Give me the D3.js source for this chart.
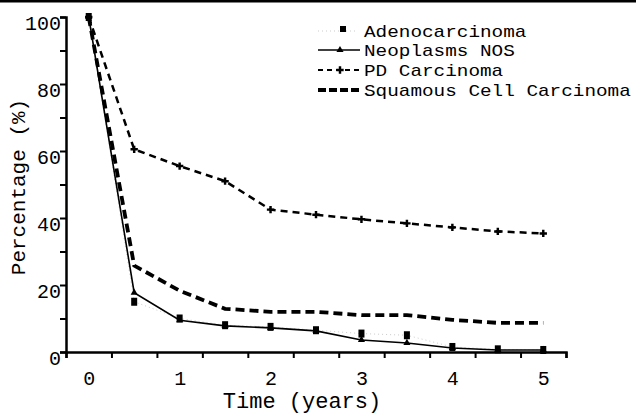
<!DOCTYPE html>
<html>
<head>
<meta charset="utf-8">
<script src="https://cdn.jsdelivr.net/npm/d3@7"></script>
<style>
  body { margin: 0; background: #fff; }
</style>
</head>
<body>
<div class="canvaChart"></div>
<script>
// survival data
const times = [0, 0.5, 1, 1.5, 2, 2.5, 3, 3.5, 4, 4.5, 5];
const adenocarcinoma = [100, 15, 10, 8, 7.5, 6.5, 5.5, 5, 1.5, 0.8, 0.6];
const neoplasmsNOS = [100, 17.7, 9.5, 7.8, 7.2, 6.3, 3.6, 2.7, 1.2, 0.6, 0.6];
const pdCarcinoma = [100, 60.5, 55.5, 51, 42.5, 41, 39.6, 38.4, 37.2, 36, 35.4];
const squamous = [100, 25.8, 18.3, 12.9, 12, 12, 11, 11, 9.6, 8.7, 8.7];
const seriesNames = ["Adenocarcinoma", "Neoplasms NOS", "PD Carcinoma", "Squamous Cell Carcinoma"];
const xTickValues = [-0.25, 0.25, 0.75, 1.25, 1.75, 2.25, 2.75, 3.25, 3.75, 4.25, 4.75, 5.25];
const xLabelValues = [0, 1, 2, 3, 4, 5];
const yTickValues = [0, 10, 20, 30, 40, 50, 60, 70, 80, 90, 100];

const FONT = "'Liberation Mono', 'DejaVu Sans Mono', monospace";
const W = 636, H = 415;
const svg = d3.select(".canvaChart").append("svg")
  .attr("width", W).attr("height", H);

// top border of the scanned figure
svg.append("line").attr("x1", 0).attr("x2", W).attr("y1", 1).attr("y2", 1)
  .attr("stroke", "#000").attr("stroke-width", 3);

const x = d3.scaleLinear().domain([-0.25, 5.25]).range([66, 566]);
const y = d3.scaleLinear().domain([0, 100]).range([352, 17]);

// axes
const gx = svg.append("g").attr("transform", `translate(0,${y(0)})`)
  .call(d3.axisBottom(x).tickValues(xTickValues).tickSize(6).tickFormat(""));
const gxl = svg.append("g").attr("transform", `translate(0,${y(0)})`)
  .call(d3.axisBottom(x).tickValues(xLabelValues).tickSize(0).tickPadding(19)
    .tickFormat(d3.format("d")));
gxl.select(".domain").remove();

const gy = svg.append("g").attr("transform", `translate(${x(-0.25)},0)`)
  .call(d3.axisLeft(y).tickValues(yTickValues).tickSize(6).tickPadding(-1)
    .tickFormat(d => d % 20 === 0 ? d : ""));

[gx, gy].forEach(g => {
  g.select(".domain").attr("stroke-width", 2.5);
  g.selectAll(".tick line").attr("stroke-width", 2);
});
svg.selectAll(".tick text").attr("font-size", 20).attr("font-family", FONT)
  .style("font-family", FONT);
gy.selectAll(".tick text").attr("dy", "0.6em");

const line = vals => d3.line().x((d, i) => x(times[i])).y(d => y(d))(vals);

// Adenocarcinoma: squares only (faint dotted line)
svg.append("path").attr("d", line(adenocarcinoma)).attr("fill", "none")
  .attr("stroke", "#ccc").attr("stroke-width", 1).attr("stroke-dasharray", "1,3");
svg.selectAll(".adeno").data(adenocarcinoma).enter().append("rect")
  .attr("x", (d, i) => x(times[i]) - 3).attr("y", d => y(d) - 4)
  .attr("width", 6).attr("height", 8).attr("fill", "#000");

// Neoplasms NOS: solid
svg.append("path").attr("d", line(neoplasmsNOS)).attr("fill", "none")
  .attr("stroke", "#000").attr("stroke-width", 1.6);
svg.selectAll(".neo").data(neoplasmsNOS).enter().append("path")
  .attr("d", d3.symbol(d3.symbolTriangle, 22))
  .attr("transform", (d, i) => `translate(${x(times[i])},${y(d)})`).attr("fill", "#000");

// PD Carcinoma: medium dashes with + markers
svg.append("path").attr("d", line(pdCarcinoma)).attr("fill", "none")
  .attr("stroke", "#000").attr("stroke-width", 2.5).attr("stroke-dasharray", "7,5");
svg.selectAll(".pd").data(pdCarcinoma).enter().append("path")
  .attr("d", d3.symbol(d3.symbolCross, 30))
  .attr("transform", (d, i) => `translate(${x(times[i])},${y(d)})`).attr("fill", "#000");

// Squamous: heavy dashes
svg.append("path").attr("d", line(squamous)).attr("fill", "none")
  .attr("stroke", "#000").attr("stroke-width", 3.8).attr("stroke-dasharray", "9,5");

// legend
const legY = [31, 50, 70, 90];
const leg = svg.append("g");
seriesNames.forEach((name, i) => {
  leg.append("text").attr("x", 364).attr("y", legY[i]).attr("dy", "0.35em")
    .attr("font-size", 17).attr("font-family", FONT)
    .attr("textLength", name.length * 11.6).attr("lengthAdjust", "spacingAndGlyphs")
    .text(name);
});
leg.append("line").attr("x1", 318).attr("x2", 358).attr("y1", legY[0]).attr("y2", legY[0])
  .attr("stroke", "#ccc").attr("stroke-dasharray", "1,3");
leg.append("rect").attr("x", 340).attr("y", legY[0] - 5).attr("width", 6).attr("height", 6);
leg.append("line").attr("x1", 318).attr("x2", 360).attr("y1", legY[1]).attr("y2", legY[1])
  .attr("stroke", "#000").attr("stroke-width", 1.6);
leg.append("path").attr("d", d3.symbol(d3.symbolTriangle, 22))
  .attr("transform", `translate(340,${legY[1]})`);
leg.append("line").attr("x1", 318).attr("x2", 360).attr("y1", legY[2]).attr("y2", legY[2])
  .attr("stroke", "#000").attr("stroke-width", 2).attr("stroke-dasharray", "5,4");
leg.append("path").attr("d", d3.symbol(d3.symbolCross, 30))
  .attr("transform", `translate(340,${legY[2]})`);
leg.append("line").attr("x1", 318).attr("x2", 362).attr("y1", legY[3]).attr("y2", legY[3])
  .attr("stroke", "#000").attr("stroke-width", 3.8).attr("stroke-dasharray", "8,3");

// axis titles
svg.append("text").attr("x", 302).attr("y", 408).attr("text-anchor", "middle")
  .attr("font-size", 22).attr("font-family", FONT).text("Time (years)");
svg.append("text").attr("transform", "translate(25,187) rotate(-90)")
  .attr("text-anchor", "middle").attr("font-size", 21).attr("font-family", FONT)
  .text("Percentage (%)");
</script>
</body>
</html>
